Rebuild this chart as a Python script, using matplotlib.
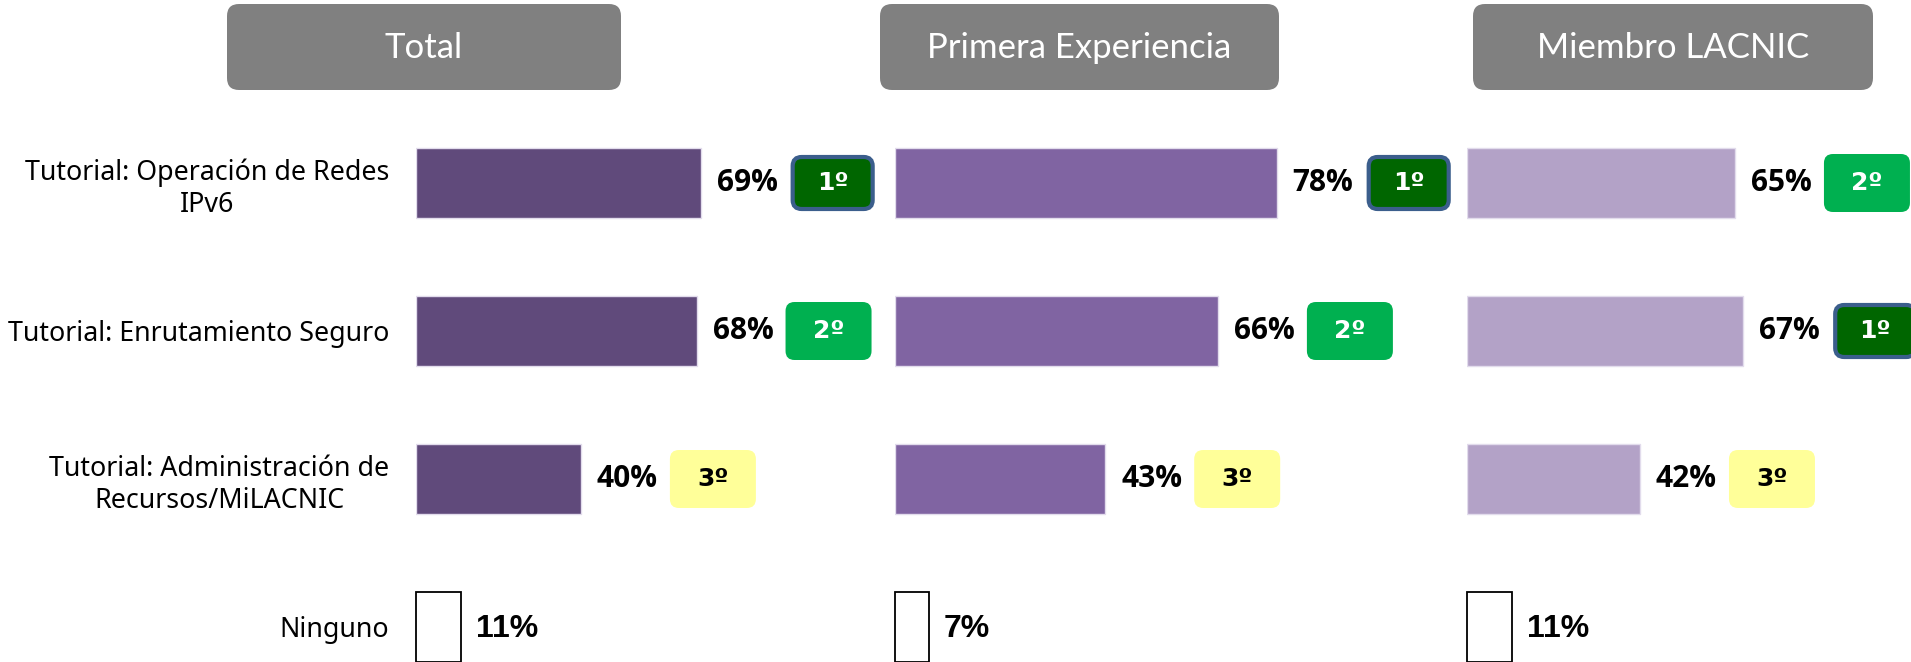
"""
Tutoriales preferidos por perfil de asistente (Total / Primera Experiencia / Miembro LACNIC).
"""
import matplotlib
matplotlib.use('Agg')
import matplotlib.pyplot as plt
from matplotlib.patches import FancyBboxPatch
from matplotlib.transforms import ScaledTranslation

# ── Datos ─────────────────────────────────────────────────────────────────
categorias = ["Tutorial: Operación de Redes\nIPv6",
              "Tutorial: Enrutamiento Seguro",
              "Tutorial: Administración de\nRecursos/MiLACNIC",
              "Ninguno"]
paneles = ["Total", "Primera Experiencia", "Miembro LACNIC"]

val_total   = [69, 68, 40, 11]
val_primera = [78, 66, 43, 7]
val_miembro = [65, 67, 42, 11]

rank_total   = [1, 2, 3]
rank_primera = [1, 2, 3]
rank_miembro = [2, 1, 3]

# ── Estilo / layout (pixeles a 100 dpi) ───────────────────────────────────
W, H, DPI = 1911, 662, 100
Y0, DY = 183, 148          # centro da primeira linha e espaçamento
BAR_H = 70 / DY

# (left_px, width_px, px por %, cor da barra, header x0, header x1)
cfg = [
    (415.7, 400, 4.13, "#604A7B", 227, 621),
    (894.5, 500, 4.90, "#8064A2", 880, 1279),
    (1466.5, 420, 4.13, "#B3A2C7", 1473, 1873),
]
valores = [val_total, val_primera, val_miembro]
ranks = [rank_total, rank_primera, rank_miembro]

badge_cfg = {1: ("#006600", "#3B5E8C", 3.0, "white"),
             2: ("#00B050", "#00B050", 0.0, "white"),
             3: ("#FFFF99", "#FFFF99", 0.0, "black")}

fig = plt.figure(figsize=(W / DPI, H / DPI), dpi=DPI)
fig.patch.set_facecolor("white")

ylim = ((H - Y0) / DY, -Y0 / DY)

for k, (left, wpx, ppp, cor, hx0, hx1) in enumerate(cfg):
    vals = valores[k]
    ax = fig.add_axes([left / W, 0, wpx / W, 1])
    ax.set_facecolor("none")

    ax.barh(range(3), vals[:3], height=BAR_H, color=cor,
            edgecolor="#E2DCEC", linewidth=1)
    ax.barh(3, vals[3], height=BAR_H, color="white",
            edgecolor="black", linewidth=1.3, clip_on=False)

    # rótulos de valor
    for i, v in enumerate(vals[:3]):
        ax.annotate(f"{v}%", (v, i), xytext=(11.5, 0), textcoords="offset points",
                    ha="left", va="center", fontsize=21.5, fontweight="bold",
                    family="Open Sans", color="black")
    ax.annotate(f"{vals[3]}%", (vals[3], 3), xytext=(11, -1.5),
                textcoords="offset points", ha="left", va="center",
                fontsize=23, fontweight="bold", family="Liberation Sans",
                color="black", annotation_clip=False)

    # selos de ranking
    for i, (v, r) in enumerate(zip(vals[:3], ranks[k])):
        fc, ec, lw, tc = badge_cfg[r]
        tr = fig.dpi_scale_trans + ScaledTranslation(v, i, ax.transData)
        bw, bh = (0.80, 0.52) if r == 1 else (0.86, 0.58)
        p = FancyBboxPatch((1.32 - bw / 2, -bh / 2), bw, bh,
                           boxstyle="round,pad=0,rounding_size=0.09",
                           transform=tr, facecolor=fc, edgecolor=ec,
                           linewidth=lw, clip_on=False)
        fig.add_artist(p)
        fig.text(1.32, 0.0, f"{r}º", transform=tr, ha="center", va="center",
                 fontsize=18, fontweight="bold", family="DejaVu Sans", color=tc)

    ax.set_xlim(0, wpx / ppp)
    ax.set_ylim(*ylim)
    ax.set_xticks([])
    for s in ax.spines.values():
        s.set_visible(False)
    if k == 0:
        ax.set_yticks(range(4))
        ax.set_yticklabels(categorias, fontsize=19.3, family="Noto Sans")
        for t in ax.get_yticklabels():
            t.set_multialignment("center")
        ax.tick_params(axis="y", length=0, pad=19)
    else:
        ax.set_yticks([])

    # cabeçalho
    hb = FancyBboxPatch((hx0 / DPI, (H - 90) / DPI), (hx1 - hx0) / DPI, 0.86,
                        boxstyle="round,pad=0,rounding_size=0.12",
                        transform=fig.dpi_scale_trans, facecolor="#808080",
                        edgecolor="none")
    fig.add_artist(hb)
    fig.text((hx0 + hx1) / 2 / W, (H - 48) / H, paneles[k], ha="center",
             va="center", fontsize=25, color="white", family="Lato")

fig.savefig("out.png", dpi=DPI)
